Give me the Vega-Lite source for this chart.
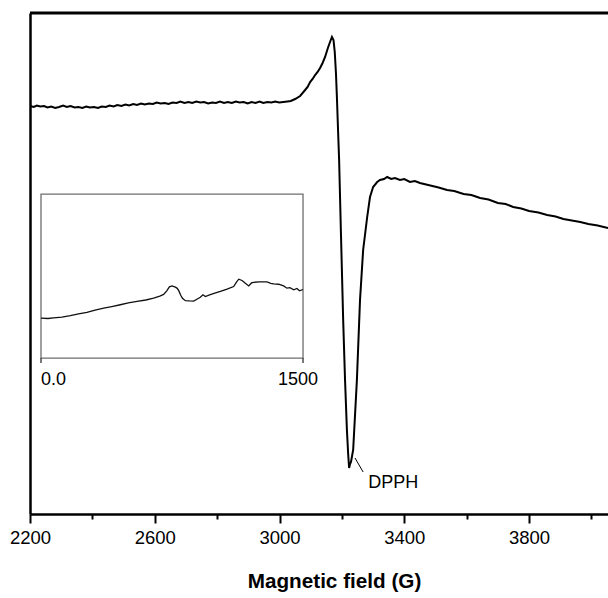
{
  "$schema": "https://vega.github.io/schema/vega-lite/v6.json",
  "width": 578,
  "height": 501,
  "autosize": {"type": "none"},
  "padding": {"left": 30, "top": 13, "right": 0, "bottom": 84},
  "config": {"view": {"stroke": null}, "font": "Liberation Sans", "background": "white"},
  "datasets": {
    "spectrum": [
      {"G": 2200, "I": 408}, {"G": 2212, "I": 407}, {"G": 2222, "I": 408.5}, {"G": 2233, "I": 407.5}, {"G": 2245, "I": 408},
      {"G": 2256, "I": 406.5}, {"G": 2268, "I": 407.5}, {"G": 2281, "I": 406}, {"G": 2293, "I": 407}, {"G": 2306, "I": 408.5},
      {"G": 2318, "I": 407}, {"G": 2330, "I": 408}, {"G": 2343, "I": 406.5}, {"G": 2355, "I": 407}, {"G": 2368, "I": 406},
      {"G": 2380, "I": 407.5}, {"G": 2392, "I": 406.5}, {"G": 2405, "I": 407}, {"G": 2418, "I": 406}, {"G": 2430, "I": 407.5},
      {"G": 2443, "I": 407}, {"G": 2455, "I": 408.5}, {"G": 2468, "I": 407.5}, {"G": 2480, "I": 409}, {"G": 2493, "I": 408},
      {"G": 2506, "I": 409.5}, {"G": 2518, "I": 408.5}, {"G": 2531, "I": 410}, {"G": 2543, "I": 409}, {"G": 2556, "I": 410.5},
      {"G": 2568, "I": 409.5}, {"G": 2581, "I": 410.5}, {"G": 2594, "I": 410}, {"G": 2606, "I": 411.5}, {"G": 2619, "I": 410.5},
      {"G": 2632, "I": 411}, {"G": 2644, "I": 410}, {"G": 2657, "I": 411.5}, {"G": 2670, "I": 411}, {"G": 2682, "I": 412.5},
      {"G": 2695, "I": 411}, {"G": 2708, "I": 412}, {"G": 2720, "I": 411}, {"G": 2733, "I": 412.5}, {"G": 2746, "I": 411.5},
      {"G": 2758, "I": 412}, {"G": 2771, "I": 410.5}, {"G": 2784, "I": 411.5}, {"G": 2796, "I": 411}, {"G": 2809, "I": 412.5},
      {"G": 2822, "I": 411}, {"G": 2834, "I": 412}, {"G": 2847, "I": 411}, {"G": 2860, "I": 412.5}, {"G": 2872, "I": 411.5},
      {"G": 2885, "I": 412}, {"G": 2898, "I": 410.5}, {"G": 2910, "I": 412}, {"G": 2923, "I": 411}, {"G": 2936, "I": 412.5},
      {"G": 2948, "I": 411}, {"G": 2961, "I": 412}, {"G": 2974, "I": 411.5}, {"G": 2986, "I": 412.5}, {"G": 2999, "I": 411.5},
      {"G": 3012, "I": 412}, {"G": 3025, "I": 412.5}, {"G": 3036, "I": 413}, {"G": 3050, "I": 415}, {"G": 3066, "I": 418},
      {"G": 3082, "I": 424}, {"G": 3090, "I": 427}, {"G": 3098, "I": 432}, {"G": 3106, "I": 435}, {"G": 3114, "I": 439},
      {"G": 3122, "I": 442}, {"G": 3130, "I": 446}, {"G": 3138, "I": 451}, {"G": 3146, "I": 457}, {"G": 3155, "I": 466},
      {"G": 3163, "I": 473}, {"G": 3168, "I": 477}, {"G": 3173, "I": 474}, {"G": 3177, "I": 462}, {"G": 3181, "I": 440},
      {"G": 3184, "I": 416}, {"G": 3188, "I": 380}, {"G": 3191, "I": 354}, {"G": 3197, "I": 279}, {"G": 3204, "I": 194},
      {"G": 3210, "I": 134}, {"G": 3216, "I": 84}, {"G": 3220, "I": 60}, {"G": 3223, "I": 46}, {"G": 3226, "I": 50},
      {"G": 3229, "I": 52}, {"G": 3236, "I": 64}, {"G": 3242, "I": 99}, {"G": 3248, "I": 134}, {"G": 3258, "I": 214},
      {"G": 3268, "I": 264}, {"G": 3281, "I": 297}, {"G": 3290, "I": 317}, {"G": 3300, "I": 327}, {"G": 3313, "I": 332},
      {"G": 3322, "I": 334}, {"G": 3335, "I": 335}, {"G": 3345, "I": 337}, {"G": 3358, "I": 335}, {"G": 3370, "I": 336},
      {"G": 3386, "I": 334}, {"G": 3400, "I": 335}, {"G": 3418, "I": 332}, {"G": 3434, "I": 333}, {"G": 3450, "I": 331},
      {"G": 3470, "I": 329.5}, {"G": 3490, "I": 328}, {"G": 3510, "I": 326.5}, {"G": 3537, "I": 324}, {"G": 3560, "I": 323},
      {"G": 3590, "I": 320}, {"G": 3615, "I": 319}, {"G": 3643, "I": 316}, {"G": 3670, "I": 314.5}, {"G": 3700, "I": 311},
      {"G": 3725, "I": 310}, {"G": 3749, "I": 307}, {"G": 3775, "I": 305.5}, {"G": 3800, "I": 303}, {"G": 3830, "I": 301.5},
      {"G": 3858, "I": 299}, {"G": 3885, "I": 297.5}, {"G": 3910, "I": 295}, {"G": 3937, "I": 293.5}, {"G": 3964, "I": 292},
      {"G": 3990, "I": 290}, {"G": 4020, "I": 288.5}, {"G": 4053, "I": 286}
    ],
    "inset": [
      {"x": 0, "y": 24.3}, {"x": 40, "y": 24.1}, {"x": 72, "y": 24.5}, {"x": 120, "y": 25.0}, {"x": 168, "y": 25.8},
      {"x": 215, "y": 26.9}, {"x": 263, "y": 27.8}, {"x": 310, "y": 29.2}, {"x": 359, "y": 30.4}, {"x": 405, "y": 31.4},
      {"x": 454, "y": 32.5}, {"x": 500, "y": 33.6}, {"x": 550, "y": 34.5}, {"x": 600, "y": 35.4}, {"x": 645, "y": 36.5},
      {"x": 680, "y": 37.8}, {"x": 702, "y": 38.8}, {"x": 720, "y": 41.0}, {"x": 735, "y": 43.4}, {"x": 750, "y": 44.0},
      {"x": 769, "y": 43.2}, {"x": 780, "y": 42.5}, {"x": 790, "y": 40.8}, {"x": 800, "y": 38.3}, {"x": 810, "y": 36.4},
      {"x": 826, "y": 35.0}, {"x": 850, "y": 34.8}, {"x": 874, "y": 34.7}, {"x": 895, "y": 36.0}, {"x": 912, "y": 37.1},
      {"x": 927, "y": 38.6}, {"x": 941, "y": 37.5}, {"x": 965, "y": 38.5}, {"x": 995, "y": 39.6}, {"x": 1027, "y": 40.6},
      {"x": 1065, "y": 42.0}, {"x": 1103, "y": 43.6}, {"x": 1120, "y": 46.5}, {"x": 1132, "y": 48.1}, {"x": 1151, "y": 47.3},
      {"x": 1170, "y": 45.6}, {"x": 1189, "y": 44.0}, {"x": 1205, "y": 45.8}, {"x": 1218, "y": 46.2}, {"x": 1250, "y": 46.4},
      {"x": 1294, "y": 46.5}, {"x": 1315, "y": 45.6}, {"x": 1332, "y": 45.2}, {"x": 1360, "y": 45.0}, {"x": 1389, "y": 44.0},
      {"x": 1408, "y": 42.6}, {"x": 1425, "y": 42.9}, {"x": 1447, "y": 41.6}, {"x": 1465, "y": 42.4}, {"x": 1480, "y": 41.0},
      {"x": 1500, "y": 41.8}
    ],
    "insetTicks": [
      {"x": 0, "label": "0.0"},
      {"x": 1500, "label": "1500"}
    ]
  },
  "layer": [
    {
      "layer": [
        {
          "data": {"name": "spectrum"},
          "mark": {"type": "line", "color": "black", "strokeWidth": 2, "clip": true},
          "encoding": {
            "x": {
              "field": "G", "type": "quantitative",
              "scale": {"domain": [2200, 4053], "nice": false, "zero": false},
              "axis": {
                "values": [2200, 2400, 2600, 2800, 3000, 3200, 3400, 3600, 3800, 4000],
                "labelExpr": "(datum.value - 2200) % 400 == 0 ? datum.label : ''",
                "format": "d",
                "grid": false,
                "domainColor": "black", "domainWidth": 2.5,
                "tickColor": "black", "tickWidth": 2,
                "tickSize": {"expr": "(datum.value - 2200) % 400 == 0 ? 9 : 5"},
                "labelFontSize": 18.5, "labelColor": "black", "labelPadding": 5,
                "labelFlush": false, "labelOverlap": false,
                "title": "Magnetic field (G)",
                "titleFontSize": 20.7, "titleFontWeight": "bold", "titleColor": "black",
                "titleX": 304, "titleY": 73, "titleBaseline": "alphabetic", "titleAnchor": null
              }
            },
            "y": {
              "field": "I", "type": "quantitative",
              "scale": {"domain": [0, 501], "nice": false, "zero": false},
              "axis": {"labels": false, "ticks": false, "grid": false, "title": null,
                       "domainColor": "black", "domainWidth": 2.5}
            }
          }
        },
        {
          "data": {"values": [{}]},
          "mark": {"type": "rule", "color": "black", "strokeWidth": 3},
          "encoding": {"y": {"datum": 501}}
        },
        {
          "data": {"values": [{}]},
          "mark": {"type": "rule", "color": "black", "strokeWidth": 1},
          "encoding": {
            "x": {"datum": 3242}, "x2": {"datum": 3268},
            "y": {"datum": 56}, "y2": {"datum": 42}
          }
        },
        {
          "data": {"values": [{}]},
          "mark": {"type": "text", "text": "DPPH", "align": "left", "baseline": "alphabetic", "fontSize": 18, "color": "black"},
          "encoding": {"x": {"datum": 3284}, "y": {"datum": 26}}
        }
      ]
    },
    {
      "layer": [
        {
          "data": {"values": [{}]},
          "mark": {"type": "rect", "fill": "white", "fillOpacity": 0, "stroke": "#6e6e6e", "strokeWidth": 1.3},
          "encoding": {
            "x": {"datum": 0, "scale": {"domain": [-63, 3246], "nice": false, "zero": false}, "axis": null},
            "x2": {"datum": 1500},
            "y": {"datum": 0, "scale": {"domain": [-95.1, 210.4], "nice": false, "zero": false}, "axis": null},
            "y2": {"datum": 100}
          }
        },
        {
          "data": {"name": "inset"},
          "mark": {"type": "line", "color": "#111", "strokeWidth": 1.3},
          "encoding": {
            "x": {"field": "x", "type": "quantitative"},
            "y": {"field": "y", "type": "quantitative"}
          }
        },
        {
          "data": {"name": "insetTicks"},
          "mark": {"type": "rule", "color": "#333", "strokeWidth": 1.3},
          "encoding": {
            "x": {"field": "x", "type": "quantitative"},
            "y": {"datum": 0}, "y2": {"datum": -3}
          }
        },
        {
          "data": {"name": "insetTicks"},
          "transform": [{"filter": "datum.x == 0"}],
          "mark": {"type": "text", "align": "left", "baseline": "alphabetic", "fontSize": 18, "color": "black"},
          "encoding": {
            "x": {"field": "x", "type": "quantitative"},
            "y": {"datum": -16.5},
            "text": {"field": "label"}
          }
        },
        {
          "data": {"name": "insetTicks"},
          "transform": [{"filter": "datum.x == 1500"}],
          "mark": {"type": "text", "align": "center", "dx": -5, "baseline": "alphabetic", "fontSize": 18, "color": "black"},
          "encoding": {
            "x": {"field": "x", "type": "quantitative"},
            "y": {"datum": -16.5},
            "text": {"field": "label"}
          }
        }
      ]
    }
  ],
  "resolve": {"scale": {"x": "independent", "y": "independent"}}
}
